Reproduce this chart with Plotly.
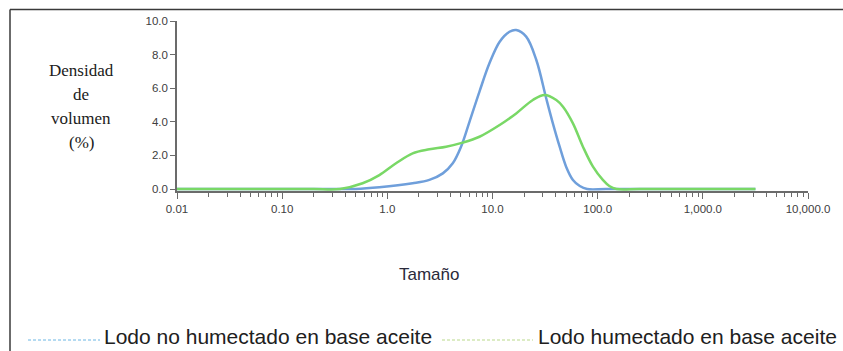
import plotly.graph_objects as go

# ---- data ----
size_blue = [0.01, 0.03, 0.1, 0.3, 0.5, 0.84, 1.74, 2.51, 3.37, 4.19, 5.01, 6.04, 7.52, 9.35, 11.7, 14.5, 16.8, 20.9,
             26.1, 32.4, 37.5, 43.5, 50.1, 58.2, 67.6, 79.4, 120, 300, 1000, 3162]
dens_blue = [0.0, 0.0, 0.0, 0.0, 0.0, 0.1, 0.34, 0.54, 0.93, 1.53, 2.5, 4.0, 5.8, 7.48, 8.77, 9.36, 9.46, 9.07,
             7.68, 5.4, 3.91, 2.52, 1.33, 0.54, 0.18, 0.0, 0.0, 0.0, 0.0, 0.0]

size_green = [0.01, 0.03, 0.1, 0.2, 0.355, 0.582, 0.84, 1.21, 1.74, 2.51, 3.62, 5.21, 7.52, 11.7, 16.8, 24.2, 31.3,
              40.4, 46.8, 58.2, 72.4, 90.2, 112, 129, 151, 250, 600, 1500, 3162]
dens_green = [0.0, 0.0, 0.0, 0.0, 0.0, 0.34, 0.83, 1.53, 2.12, 2.36, 2.52, 2.76, 3.11, 3.81, 4.5, 5.3, 5.6,
              5.3, 4.9, 3.91, 2.52, 1.33, 0.54, 0.18, 0.0, 0.0, 0.0, 0.0, 0.0]

name_blue = "Lodo no humectado en base aceite"
name_green = "Lodo humectado en base aceite"

x_tickvals = [0.01, 0.1, 1, 10, 100, 1000, 10000]
x_ticktext = ["0.01", "0.10", "1.0", "10.0", "100.0", "1,000.0", "10,000.0"]
y_tickvals = [0, 2, 4, 6, 8, 10]
y_ticktext = ["0.0", "2.0", "4.0", "6.0", "8.0", "10.0"]

x_title = "Tamaño"
y_title_lines = ["Densidad", "de", "volumen", "(%)"]

# ---- layout geometry (pixels) ----
W, H = 843, 351
L, R, T, B = 177, 35, 21, 160
PW, PH = W - L - R, H - T - B


def px(x):
    return (x - L) / PW


def py(y):
    return (H - B - y) / PH


fig = go.Figure()
fig.add_trace(go.Scatter(x=size_blue, y=dens_blue, mode="lines",
                         line=dict(color="#6f9fdb", width=2.5, shape="spline", smoothing=1.0),
                         name=name_blue, showlegend=False))
fig.add_trace(go.Scatter(x=size_green, y=dens_green, mode="lines",
                         line=dict(color="#79d866", width=2.5, shape="spline", smoothing=1.0),
                         name=name_green, showlegend=False))

minor_vals = [m * 10 ** e for e in range(-2, 4) for m in range(2, 10)]

fig.update_xaxes(type="log", range=[-2, 4], showgrid=False, zeroline=False,
                 showline=True, linecolor="#6b6b6b", linewidth=1.5,
                 ticks="outside", ticklen=6, tickcolor="#6b6b6b", tickwidth=1,
                 tickvals=x_tickvals, ticktext=x_ticktext,
                 tickfont=dict(family="Liberation Sans, Arial", size=11.5, color="#404040"),
                 minor=dict(ticks="outside", ticklen=4, tickcolor="#6b6b6b", tickwidth=1,
                            tickvals=minor_vals, showgrid=False))
fig.update_yaxes(range=[-2 / 16.8, 10], showgrid=False, zeroline=False,
                 showline=True, linecolor="#6b6b6b", linewidth=1.5,
                 ticks="outside", ticklen=5, tickcolor="#6b6b6b", tickwidth=1,
                 tickvals=y_tickvals, ticktext=y_ticktext,
                 tickfont=dict(family="Liberation Sans, Arial", size=11.5, color="#404040"))

ann = []
ytitle_y = [70, 94, 118, 142]
for txt, yy in zip(y_title_lines, ytitle_y):
    ann.append(dict(text=txt, x=px(81), y=py(yy), xref="paper", yref="paper",
                    xanchor="center", yanchor="middle", showarrow=False,
                    font=dict(family="Liberation Serif, Times New Roman", size=17, color="#202020")))
ann.append(dict(text=x_title, x=px(429), y=py(274), xref="paper", yref="paper",
                xanchor="center", yanchor="middle", showarrow=False,
                font=dict(family="Liberation Sans, Arial", size=17, color="#2a2a3a")))
ann.append(dict(text=name_blue, x=px(102), y=py(336), xref="paper", yref="paper",
                xanchor="left", yanchor="middle", showarrow=False,
                font=dict(family="Liberation Sans, Arial", size=21, color="#202020")))
ann.append(dict(text=name_green, x=px(536), y=py(336), xref="paper", yref="paper",
                xanchor="left", yanchor="middle", showarrow=False,
                font=dict(family="Liberation Sans, Arial", size=21, color="#202020")))

shapes = [
    # outer frame (top and left edges)
    dict(type="line", xref="paper", yref="paper", x0=px(10), x1=px(845), y0=py(9.5), y1=py(9.5),
         line=dict(color="#3a3a3a", width=1.5)),
    dict(type="line", xref="paper", yref="paper", x0=px(10), x1=px(10), y0=py(9.5), y1=py(353),
         line=dict(color="#3a3a3a", width=1.5)),
    # legend samples
    dict(type="line", xref="paper", yref="paper", x0=px(28), x1=px(100), y0=py(340), y1=py(340),
         line=dict(color="#6bb6e4", width=1, dash="3px,2px")),
    dict(type="line", xref="paper", yref="paper", x0=px(442), x1=px(533), y0=py(340), y1=py(340),
         line=dict(color="#b9d98a", width=1, dash="3px,2px")),
]

fig.update_layout(width=W, height=H, margin=dict(l=L, r=R, t=T, b=B),
                  paper_bgcolor="white", plot_bgcolor="white",
                  annotations=ann, shapes=shapes, showlegend=False)

fig.write_html("out.html")
